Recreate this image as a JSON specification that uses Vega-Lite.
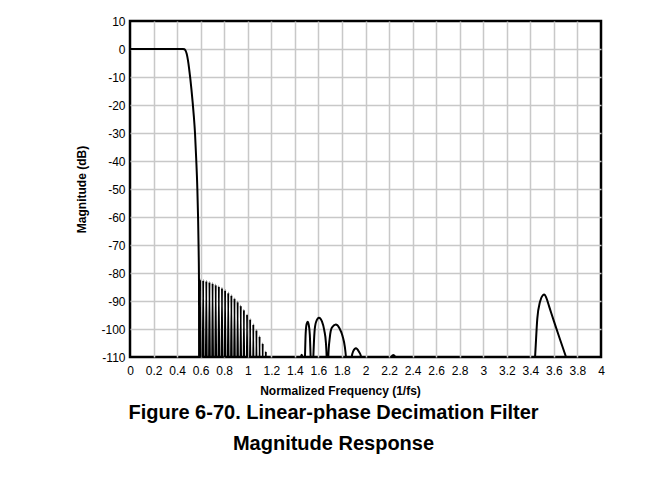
{
  "$schema": "https://vega.github.io/schema/vega-lite/v6.json",
  "width": 471,
  "height": 336,
  "autosize": {"type": "none"},
  "padding": {"left": 130, "top": 21, "right": 64, "bottom": 120},
  "background": "white",
  "title": {
    "text": ["Figure 6-70. Linear-phase Decimation Filter", "Magnitude Response"],
    "orient": "bottom",
    "anchor": "middle",
    "frame": "group",
    "dx": -32,
    "offset": 7,
    "font": "Liberation Sans",
    "fontSize": 20,
    "fontWeight": "bold",
    "lineHeight": 31,
    "color": "black"
  },
  "data": {
    "values": [
      {"f": 0, "db": 0}, {"f": 0.1, "db": 0.02}, {"f": 0.2, "db": 0}, {"f": 0.3, "db": 0.02}, {"f": 0.4, "db": 0}, {"f": 0.45, "db": 0},
      {"f": 0.462, "db": -0.1}, {"f": 0.472, "db": -0.6}, {"f": 0.482, "db": -1.8}, {"f": 0.492, "db": -4}, {"f": 0.502, "db": -7},
      {"f": 0.512, "db": -10.5}, {"f": 0.522, "db": -14.5}, {"f": 0.532, "db": -19}, {"f": 0.542, "db": -24}, {"f": 0.552, "db": -30},
      {"f": 0.562, "db": -39}, {"f": 0.572, "db": -50}, {"f": 0.578, "db": -60}, {"f": 0.583, "db": -72}, {"f": 0.586, "db": -84},
      {"f": 0.5885, "db": -200},
      {"f": 0.595, "db": -82.3}, {"f": 0.6083, "db": -200},
      {"f": 0.6216, "db": -82.5}, {"f": 0.6349, "db": -200},
      {"f": 0.6482, "db": -82.8}, {"f": 0.6615, "db": -200},
      {"f": 0.6748, "db": -83.2}, {"f": 0.6881, "db": -200},
      {"f": 0.7014, "db": -83.6}, {"f": 0.7147, "db": -200},
      {"f": 0.728, "db": -84.1}, {"f": 0.7413, "db": -200},
      {"f": 0.7546, "db": -84.7}, {"f": 0.7679, "db": -200},
      {"f": 0.7812, "db": -85.3}, {"f": 0.7945, "db": -200},
      {"f": 0.8078, "db": -86.1}, {"f": 0.8211, "db": -200},
      {"f": 0.8344, "db": -87.0}, {"f": 0.8477, "db": -200},
      {"f": 0.861, "db": -87.9}, {"f": 0.8743, "db": -200},
      {"f": 0.8876, "db": -89.0}, {"f": 0.9009, "db": -200},
      {"f": 0.9142, "db": -90.2}, {"f": 0.9275, "db": -200},
      {"f": 0.9408, "db": -91.6}, {"f": 0.9541, "db": -200},
      {"f": 0.9674, "db": -93.1}, {"f": 0.9807, "db": -200},
      {"f": 0.994, "db": -94.8}, {"f": 1.0073, "db": -200},
      {"f": 1.0206, "db": -96.5}, {"f": 1.0339, "db": -200},
      {"f": 1.0472, "db": -98.3}, {"f": 1.0605, "db": -200},
      {"f": 1.0738, "db": -100.4}, {"f": 1.0871, "db": -200},
      {"f": 1.1004, "db": -102.6}, {"f": 1.1137, "db": -200},
      {"f": 1.127, "db": -105.1}, {"f": 1.1403, "db": -200},
      {"f": 1.1536, "db": -108.0}, {"f": 1.1669, "db": -200},
      {"f": 1.25, "db": -140}, {"f": 1.35, "db": -140}, {"f": 1.43, "db": -130},
      {"f": 1.447, "db": -111}, {"f": 1.453, "db": -109.8}, {"f": 1.458, "db": -109.2}, {"f": 1.463, "db": -109.8}, {"f": 1.469, "db": -111},
      {"f": 1.478, "db": -125},
      {"f": 1.486, "db": -110}, {"f": 1.492, "db": -101.5}, {"f": 1.5, "db": -98.2}, {"f": 1.509, "db": -97.4}, {"f": 1.518, "db": -98.5},
      {"f": 1.527, "db": -102}, {"f": 1.534, "db": -110}, {"f": 1.545, "db": -128},
      {"f": 1.557, "db": -110}, {"f": 1.567, "db": -101}, {"f": 1.58, "db": -97.5}, {"f": 1.605, "db": -96}, {"f": 1.63, "db": -97.3},
      {"f": 1.65, "db": -100.5}, {"f": 1.664, "db": -105}, {"f": 1.67, "db": -110}, {"f": 1.677, "db": -125},
      {"f": 1.684, "db": -110}, {"f": 1.697, "db": -103}, {"f": 1.715, "db": -99.5}, {"f": 1.747, "db": -98.4}, {"f": 1.78, "db": -99.8},
      {"f": 1.805, "db": -102.5}, {"f": 1.825, "db": -106.5}, {"f": 1.834, "db": -110}, {"f": 1.858, "db": -130},
      {"f": 1.883, "db": -110}, {"f": 1.895, "db": -108}, {"f": 1.919, "db": -106.9}, {"f": 1.943, "db": -108}, {"f": 1.963, "db": -110},
      {"f": 1.98, "db": -130},
      {"f": 2.2, "db": -130}, {"f": 2.214, "db": -110.5}, {"f": 2.236, "db": -109.3}, {"f": 2.259, "db": -110.5}, {"f": 2.28, "db": -130},
      {"f": 2.6, "db": -140}, {"f": 3.0, "db": -140}, {"f": 3.4, "db": -130},
      {"f": 3.44, "db": -110}, {"f": 3.459, "db": -96.3}, {"f": 3.482, "db": -90.3}, {"f": 3.505, "db": -88}, {"f": 3.519, "db": -87.7},
      {"f": 3.535, "db": -88.8}, {"f": 3.56, "db": -92}, {"f": 3.6, "db": -97.2}, {"f": 3.65, "db": -103.5}, {"f": 3.703, "db": -110},
      {"f": 3.75, "db": -116}, {"f": 4.0, "db": -140}
    ]
  },
  "mark": {"type": "line", "interpolate": "monotone", "clip": true, "color": "black", "strokeWidth": 2},
  "encoding": {
    "x": {
      "field": "f",
      "type": "quantitative",
      "scale": {"domain": [0, 4], "nice": false, "zero": false},
      "axis": {
        "values": [0, 0.2, 0.4, 0.6, 0.8, 1, 1.2, 1.4, 1.6, 1.8, 2, 2.2, 2.4, 2.6, 2.8, 3, 3.2, 3.4, 3.6, 3.8, 4],
        "labelExpr": "'' + datum.value",
        "labelPadding": 8,
        "labelFlush": false,
        "labelOverlap": false,
        "gridColor": {"condition": {"test": "datum.value == 0 || datum.value == 4", "value": "transparent"}, "value": "#c8c8c8"},
        "title": "Normalized Frequency (1/fs)",
        "titleX": 210,
        "titlePadding": 9
      }
    },
    "y": {
      "field": "db",
      "type": "quantitative",
      "scale": {"domain": [-110, 10], "nice": false, "zero": false},
      "axis": {
        "values": [-110, -100, -90, -80, -70, -60, -50, -40, -30, -20, -10, 0, 10],
        "labelExpr": "'' + datum.value",
        "labelPadding": 5,
        "labelFlush": false,
        "labelOverlap": false,
        "gridColor": {"condition": {"test": "datum.value == -110 || datum.value == 10", "value": "transparent"}, "value": "#c8c8c8"},
        "title": "Magnitude (dB)",
        "titlePadding": 12
      }
    }
  },
  "config": {
    "view": {"stroke": "black", "strokeWidth": 2.5},
    "axis": {
      "grid": true,
      "gridWidth": 1.5,
      "domain": false,
      "ticks": false,
      "labelFont": "Liberation Sans",
      "labelFontSize": 12,
      "labelColor": "black",
      "titleFont": "Liberation Sans",
      "titleFontSize": 12,
      "titleFontWeight": "bold",
      "titleColor": "black"
    }
  }
}
